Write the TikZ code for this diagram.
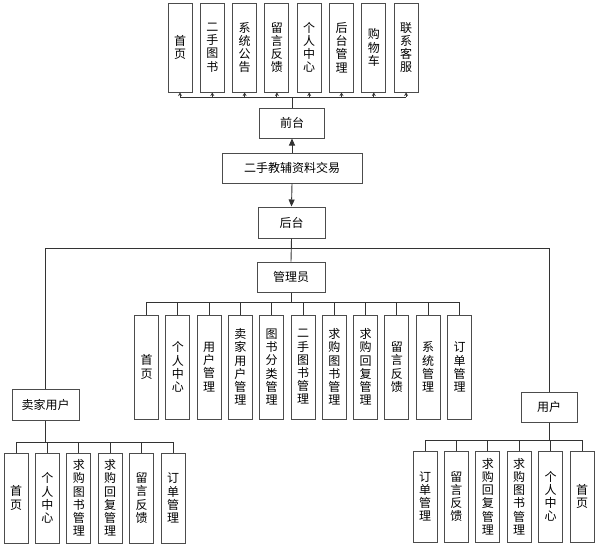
\documentclass[tikz,border=0pt]{standalone}
\usepackage{fontspec}
\setmainfont{Noto Sans CJK SC}
\usetikzlibrary{arrows.meta}
\begin{document}
\begin{tikzpicture}[x=1pt,y=-1pt,
  font=\fontsize{12}{13.2}\selectfont,
  vbox/.style={draw=black!70,line width=1pt,fill=white,minimum width=24pt,inner sep=0pt,align=center},
  hbox/.style={draw=black!70,line width=1pt,fill=white,minimum height=30pt,inner sep=0pt,align=center},
  conn/.style={draw=black!80,line width=0.9pt},
  bigarrow/.style={conn,-{Triangle[length=7pt,width=6pt]}},
  smallarrow/.style={conn,-{Stealth[length=3.5pt,width=4pt]}}]
\useasboundingbox (0,0) rectangle (600,550);

% central column
\node[hbox,minimum width=65pt] (qt) at (292,123) {前台};
\node[hbox,minimum width=140pt] (main) at (292,168) {二手教辅资料交易};
\node[hbox,minimum width=67pt,minimum height=31pt] (ht) at (291.5,222.5) {后台};
\node[hbox,minimum width=68pt] (adm) at (291,277) {管理员};
\node[hbox,minimum width=67pt,minimum height=31pt] (seller) at (45.5,404.5) {卖家用户};
\node[hbox,minimum width=56pt] (user) at (549,407) {用户};

\draw[bigarrow] (main.north) -- (qt.south);
\draw[bigarrow] (main.south) -- (ht.north);

% front-end modules
\foreach \t [count=\i from 0] in {首\\页,二\\手\\图\\书,系\\统\\公\\告,留\\言\\反\\馈,个\\人\\中\\心,后\\台\\管\\理,购\\物\\车,联\\系\\客\\服}
  \node[vbox,minimum height=89pt] (top\i) at ({180+32.3*\i},47.5) {\t};
\coordinate (tbus) at (292,97);
\draw[conn] (qt.north) -- (tbus);
\draw[conn] (top0.south |- tbus) -- (top7.south |- tbus);
\foreach \i in {0,...,7}
  \draw[smallarrow] (top\i.south |- tbus) -- (top\i.south);

% back-end trunk
\coordinate (trunk) at (291.5,248);
\draw[conn] (ht.south) -- (adm.north);
\draw[conn] (seller.north |- trunk) -- (user.north |- trunk);
\draw[conn] (seller.north |- trunk) -- (seller.north);
\draw[conn] (user.north |- trunk) -- (user.north);

% admin modules
\foreach \t [count=\i from 0] in {首\\页,个\\人\\中\\心,用\\户\\管\\理,卖\\家\\用\\户\\管\\理,图\\书\\分\\类\\管\\理,二\\手\\图\\书\\管\\理,求\\购\\图\\书\\管\\理,求\\购\\回\\复\\管\\理,留\\言\\反\\馈,系\\统\\管\\理,订\\单\\管\\理}
  \node[vbox,minimum height=104pt] (a\i) at ({146.5+31.3*\i},367) {\t};
\coordinate (abus) at (291,302);
\draw[conn] (adm.south) -- (abus);
\draw[conn] (a0.north |- abus) -- (a10.north |- abus);
\foreach \i in {0,...,10}
  \draw[conn] (a\i.north |- abus) -- (a\i.north);

% seller modules
\foreach \t [count=\i from 0] in {首\\页,个\\人\\中\\心,求\\购\\图\\书\\管\\理,求\\购\\回\\复\\管\\理,留\\言\\反\\馈,订\\单\\管\\理}
  \node[vbox,minimum height=90pt] (s\i) at ({16+31.4*\i},498) {\t};
\coordinate (sbus) at (45.5,442);
\draw[conn] (seller.south) -- (sbus);
\draw[conn] (s0.north |- sbus) -- (s5.north |- sbus);
\foreach \i in {0,...,5}
  \draw[conn] (s\i.north |- sbus) -- (s\i.north);

% user modules
\foreach \t [count=\i from 0] in {订\\单\\管\\理,留\\言\\反\\馈,求\\购\\回\\复\\管\\理,求\\购\\图\\书\\管\\理,个\\人\\中\\心,首\\页}
  \node[vbox,minimum height=91pt] (u\i) at ({425+31.4*\i},496.5) {\t};
\coordinate (ubus) at (549,440);
\draw[conn] (user.south) -- (ubus);
\draw[conn] (u0.north |- ubus) -- (u5.north |- ubus);
\foreach \i in {0,...,5}
  \draw[conn] (u\i.north |- ubus) -- (u\i.north);
\end{tikzpicture}
\end{document}
